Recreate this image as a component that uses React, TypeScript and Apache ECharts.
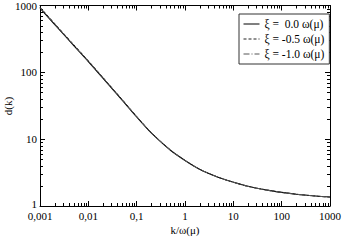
import React, { useEffect, useRef } from "react";
import * as echarts from "echarts";

const kValues = [0.001, 0.002, 0.005, 0.01, 0.02, 0.05, 0.1, 0.2, 0.5, 1, 2, 5, 10, 20, 50, 100, 200, 500, 1000];
const dXi0 = [910, 522, 251, 145, 82, 38.4, 21.5, 12.4, 6.82, 4.8, 3.55, 2.67, 2.27, 1.97, 1.73, 1.6, 1.5, 1.41, 1.36];
const dXiM05 = [945, 540, 259, 149, 84.2, 39.3, 21.9, 12.6, 6.88, 4.82, 3.55, 2.67, 2.27, 1.97, 1.73, 1.6, 1.5, 1.41, 1.36];
const dXiM10 = [930, 532, 255, 147, 83.2, 38.9, 21.7, 12.5, 6.85, 4.81, 3.55, 2.67, 2.27, 1.97, 1.73, 1.6, 1.5, 1.41, 1.36];
const seriesNames = ["ξ =  0.0 ω(μ)", "ξ = -0.5 ω(μ)", "ξ = -1.0 ω(μ)"];
const xTickLabels: Record<string, string> = {
  "0.001": "0,001", "0.01": "0,01", "0.1": "0,1", "1": "1", "10": "10", "100": "100", "1000": "1000",
};
const xMinorTicks = [0.001, 0.01, 0.1, 1, 10, 100].flatMap((b) => [2, 3, 4, 5, 6, 7, 8, 9].map((m) => +(b * m).toPrecision(3)));
const yMinorTicks = [1, 10, 100].flatMap((b) => [2, 3, 4, 5, 6, 7, 8, 9].map((m) => b * m));

const FONT = "Liberation Serif";

export default function App() {
  const ref = useRef<HTMLDivElement>(null);
  useEffect(() => {
    if (!ref.current) return;
    const chart = echarts.init(ref.current, null, { renderer: "svg" });
    const axisCommon = {
      type: "log" as const,
      logBase: 10,
      axisLine: { show: true, lineStyle: { color: "#000", width: 1 } },
      axisTick: { show: true, inside: true, length: 5, lineStyle: { color: "#000" } },
      splitLine: { show: false },
      minorTick: { show: false },
    };
    const mk = (arr: number[]) => kValues.map((k, i) => [k, arr[i]]);
    chart.setOption({
      animation: false,
      grid: { left: 40, right: 13, top: 5, bottom: 36 },
      xAxis: [
        {
          ...axisCommon,
          min: 0.001,
          max: 1000,
          position: "bottom",
          axisLabel: {
            fontFamily: FONT,
            fontSize: 11,
            color: "#000",
            margin: 4,
            formatter: (v: number) => xTickLabels[String(+v.toPrecision(3))] ?? String(v),
          },
        },
        { ...axisCommon, min: 0.001, max: 1000, position: "top", axisLabel: { show: false } },
      ],
      yAxis: [
        {
          ...axisCommon,
          min: 1,
          max: 1000,
          position: "left",
          axisLabel: {
            fontFamily: FONT,
            fontSize: 11,
            color: "#000",
            margin: 3,
            formatter: (v: number) => {
              const s = String(Math.round(v));
              return s === "1" ? "{one|1}" : s;
            },
            rich: { one: { fontFamily: FONT, fontSize: 11, color: "#000", padding: [0, 0, 5, 0] } },
          },
        },
        { ...axisCommon, min: 1, max: 1000, position: "right", axisLabel: { show: false } },
      ],
      legend: {
        orient: "vertical",
        left: 239,
        top: 14,
        data: seriesNames,
        itemWidth: 16,
        itemHeight: 10,
        itemGap: 3,
        padding: [4, 5, 4, 4],
        borderColor: "#333",
        borderWidth: 1,
        backgroundColor: "#fff",
        itemStyle: { opacity: 0 },
        lineStyle: { width: 1 },
        textStyle: { fontFamily: FONT, fontSize: 11.5, color: "#000" },
      },
      graphic: [
        {
          type: "text",
          x: 8,
          y: 106,
          rotation: Math.PI / 2,
          style: { text: "d(k)", font: `11px "${FONT}"`, fill: "#000", align: "center", verticalAlign: "middle" },
        },
        {
          type: "text",
          x: 185,
          y: 230,
          style: { text: "k/ω(μ)", font: `11px "${FONT}"`, fill: "#000", align: "center", verticalAlign: "middle" },
        },
      ],
      series: [
        {
          name: seriesNames[0],
          type: "line",
          data: mk(dXi0),
          symbol: "none",
          smooth: 0.3,
          lineStyle: { color: "#000", width: 1.1, type: "solid" },
          itemStyle: { color: "#000" },
          z: 3,
        },
        {
          name: seriesNames[1],
          type: "line",
          data: mk(dXiM05),
          symbol: "none",
          smooth: 0.3,
          lineStyle: { color: "#222", width: 1, type: [3, 2] },
          itemStyle: { color: "#222" },
        },
        {
          name: seriesNames[2],
          type: "line",
          data: mk(dXiM10),
          symbol: "none",
          smooth: 0.3,
          lineStyle: { color: "#555", width: 1, type: [6, 2, 1, 2] },
          itemStyle: { color: "#555" },
        },
        {
          type: "custom",
          silent: true,
          clip: false,
          data: xMinorTicks.map((v) => [v, 1]),
          renderItem: (_p: any, api: any) => {
            const v = api.value(0);
            const b = api.coord([v, 1]);
            const t = api.coord([v, 1000]);
            const x = Math.round(b[0]) + 0.5;
            return {
              type: "group",
              children: [
                { type: "line", shape: { x1: x, y1: b[1], x2: x, y2: b[1] - 3 }, style: { stroke: "#000", lineWidth: 1 } },
                { type: "line", shape: { x1: x, y1: t[1], x2: x, y2: t[1] + 3 }, style: { stroke: "#000", lineWidth: 1 } },
              ],
            };
          },
        },
        {
          type: "custom",
          silent: true,
          clip: false,
          data: yMinorTicks.map((v) => [0.001, v]),
          renderItem: (_p: any, api: any) => {
            const v = api.value(1);
            const l = api.coord([0.001, v]);
            const r = api.coord([1000, v]);
            const y = Math.round(l[1]) + 0.5;
            return {
              type: "group",
              children: [
                { type: "line", shape: { x1: l[0], y1: y, x2: l[0] + 3, y2: y }, style: { stroke: "#000", lineWidth: 1 } },
                { type: "line", shape: { x1: r[0], y1: y, x2: r[0] - 3, y2: y }, style: { stroke: "#000", lineWidth: 1 } },
              ],
            };
          },
        },
      ],
    });
    return () => chart.dispose();
  }, []);
  return <div ref={ref} style={{ width: 344, height: 242, position: "absolute", left: 0, top: 0 }} />;
}
